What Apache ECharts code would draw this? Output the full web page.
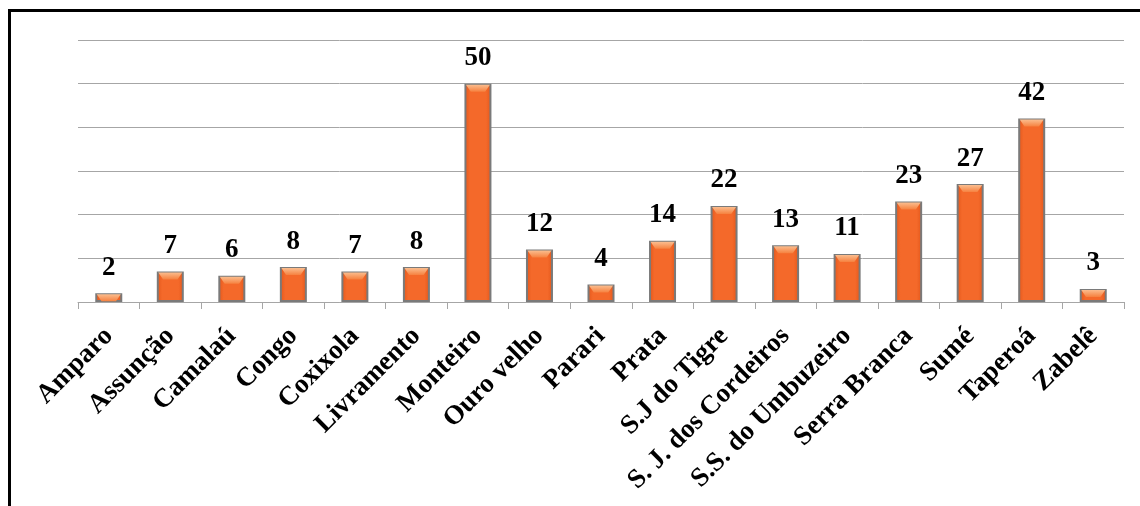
<!DOCTYPE html>
<html>
<head>
<meta charset="utf-8">
<script src="https://cdn.jsdelivr.net/npm/echarts@6/dist/echarts.min.js"></script>
<style>
  html, body { margin: 0; padding: 0; background: #fff; }
  #main { width: 1140px; height: 506px; }
</style>
</head>
<body>
<div id="main"></div>
<script>
'use strict';

// municipios e valores
const categories = ['Amparo', 'Assunção', 'Camalaú', 'Congo', 'Coxixola', 'Livramento',
    'Monteiro', 'Ouro velho', 'Parari', 'Prata', 'S.J do Tigre', 'S. J. dos Cordeiros',
    'S.S. do Umbuzeiro', 'Serra Branca', 'Sumé', 'Taperoá', 'Zabelê'];
const values = [2, 7, 6, 8, 7, 8, 50, 12, 4, 14, 22, 13, 11, 23, 27, 42, 3];

const serif = '"Liberation Serif", "Times New Roman", serif';

let mChart = echarts.init(document.getElementById('main'));

let options = {
    animation: false,
    backgroundColor: '#fff',
    graphic: [{
        type: 'rect',
        shape: { x: 9.5, y: 10.5, width: 1200, height: 600 },
        style: { fill: 'none', stroke: '#000', lineWidth: 3 },
        z: 10
    }],
    grid: { left: 78, right: 16, top: 40, bottom: 204 },
    xAxis: {
        type: 'category',
        data: categories,
        axisLine: { lineStyle: { color: '#a6a6a6', width: 1 } },
        axisTick: { show: true, length: 7, lineStyle: { color: '#a6a6a6' } },
        axisLabel: {
            rotate: 45,
            interval: 0,
            margin: 30,
            color: '#000',
            fontFamily: serif,
            fontWeight: 'bold',
            fontSize: 27
        }
    },
    yAxis: {
        type: 'value',
        min: 0,
        max: 60,
        interval: 10,
        axisLabel: { show: false },
        axisLine: { show: false },
        axisTick: { show: false },
        splitLine: { lineStyle: { color: '#a6a6a6', width: 1 } }
    },
    series: [{
        type: 'bar',
        data: values,
        barWidth: 27,
        itemStyle: {
            color: {
                type: 'linear', x: 0, y: 0, x2: 1, y2: 0,
                colorStops: [
                    { offset: 0, color: '#e2561a' },
                    { offset: 0.2, color: '#f4692a' },
                    { offset: 0.8, color: '#f4692a' },
                    { offset: 1, color: '#e2561a' }
                ]
            },
            borderColor: '#7a7a7a',
            borderWidth: 2
        },
        label: {
            show: true,
            position: 'top',
            distance: 12,
            color: '#000',
            fontFamily: serif,
            fontWeight: 'bold',
            fontSize: 27
        }
    }, {
        // brilho no topo das barras
        type: 'pictorialBar',
        data: values,
        symbol: 'path://M0,0 L20,0 L16,6 L4,6 Z',
        symbolSize: [24, 7],
        symbolPosition: 'end',
        symbolOffset: [0, 1],
        itemStyle: {
            color: {
                type: 'linear', x: 0, y: 0, x2: 0, y2: 1,
                colorStops: [
                    { offset: 0, color: '#fbbd8e' },
                    { offset: 1, color: '#f6813f' }
                ]
            }
        },
        z: 3,
        silent: true
    }]
};

mChart.setOption(options);
</script>
</body>
</html>
